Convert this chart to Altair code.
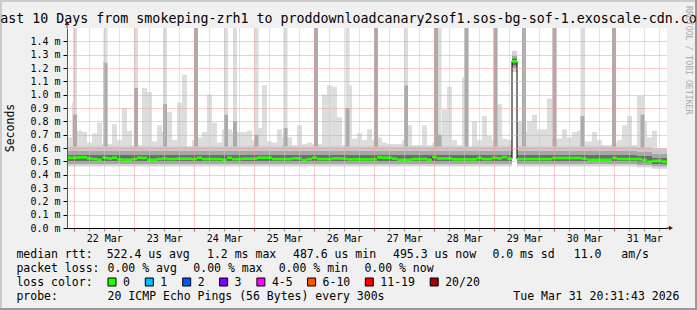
import altair as alt
import pandas as pd

# ---------------- values ----------------
title_text = "Last 10 Days from smokeping-zrh1 to proddownloadcanary2sof1.sos-bg-sof-1.exoscale-cdn.com"
y_title = "Seconds"
credit_text = "RRDTOOL / TOBI OETIKER"
start_time = "2026-03-21 21:05"
end_time = "2026-03-31 21:05"
bucket_hours = 2      # median / smoke max resolution
band_hours = 6        # core smoke band resolution

# median rtt (ms) per 2-hour bucket
median_ms = [
    0.527, 0.527, 0.530, 0.530, 0.522, 0.517, 0.512, 0.527, 0.522, 0.527,
    0.515, 0.512, 0.512, 0.517, 0.527, 0.525, 0.512, 0.512, 0.517, 0.522,
    0.517, 0.517, 0.520, 0.520, 0.520, 0.517, 0.527, 0.517, 0.517, 0.517,
    0.517, 0.512, 0.527, 0.517, 0.517, 0.520, 0.520, 0.520, 0.527, 0.527,
    0.527, 0.517, 0.517, 0.517, 0.517, 0.522, 0.522, 0.510, 0.517, 0.527,
    0.517, 0.517, 0.517, 0.522, 0.522, 0.520, 0.515, 0.515, 0.515, 0.515,
    0.515, 0.515, 0.530, 0.527, 0.527, 0.520, 0.512, 0.512, 0.512, 0.517,
    0.517, 0.517, 0.512, 0.532, 0.522, 0.522, 0.522, 0.515, 0.515, 0.515,
    0.515, 0.515, 0.525, 0.517, 0.517, 0.527, 0.522, 0.532, 0.520, 1.250,
    0.517, 0.517, 0.517, 0.517, 0.517, 0.517, 0.517, 0.525, 0.525, 0.525,
    0.525, 0.525, 0.525, 0.520, 0.512, 0.512, 0.512, 0.512, 0.512, 0.525,
    0.517, 0.517, 0.517, 0.517, 0.517, 0.510, 0.497, 0.503, 0.505, 0.497,
]

# top of the lightest smoke (ms) per 2-hour bucket (None: no low smoke)
smoke_max_ms = [
    0.68, 0.94, 0.73, 0.72, 0.64, 0.71, 0.79, 0.63, 0.63, 0.78,
    0.66, 0.90, 0.73, 0.62, 0.62, 1.05, 1.02, 0.65, 0.77, 0.72,
    0.87, 0.66, 0.94, 1.15, 0.60, 0.66, 0.68, 0.72, 1.00, 0.79,
    0.64, 0.74, 0.74, 0.72, 0.72, 0.72, 0.73, 0.66, 0.75, 1.07,
    0.65, 0.64, 0.74, 0.68, 0.68, 0.62, 0.77, 0.63, 0.64, 0.63,
    0.63, 1.00, 1.07, 1.06, 0.83, 0.62, 1.07, 0.67, 0.71, 0.66,
    0.74, 0.66, 0.68, 0.64, 0.63, 0.63, 0.63, 0.66, 0.77, 0.62,
    0.62, 0.77, 0.62, 0.64, 0.70, 0.89, 1.06, 0.66, 0.62, 1.13,
    0.60, 0.80, 0.66, 0.84, 0.69, 0.66, 0.93, 0.67, 0.66, None,
    0.80, 0.72, 0.80, 0.85, 0.74, 0.74, 0.97, 0.67, 0.67, 0.74,
    0.68, 0.72, 0.73, 0.65, 0.65, 0.72, 0.66, 0.62, 0.62, 0.64,
    0.66, 0.77, 0.84, 0.62, 0.99, 0.80, 0.68, 0.73, 0.60, 0.60,
]

# core smoke band edges (ms) per 6-hour block, from lowest to highest ping group
band_p05 = [
    0.462, 0.462, 0.462, 0.462, 0.462, 0.462, 0.462, 0.462, 0.462, 0.462,
    0.462, 0.462, 0.462, 0.462, 0.462, 0.462, 0.462, 0.462, 0.462, 0.462,
    0.462, 0.462, 0.462, 0.462, 0.462, 0.462, 0.462, 0.462, 0.462, 0.462,
    0.462, 0.462, 0.462, 0.462, 0.462, 0.462, 0.462, 0.462, 0.455, 0.445,
]
band_p20 = [
    0.480, 0.480, 0.480, 0.480, 0.480, 0.480, 0.480, 0.480, 0.480, 0.480,
    0.480, 0.480, 0.480, 0.480, 0.480, 0.480, 0.480, 0.480, 0.480, 0.480,
    0.480, 0.480, 0.480, 0.480, 0.480, 0.480, 0.480, 0.480, 0.480, 0.480,
    0.480, 0.480, 0.480, 0.480, 0.480, 0.480, 0.480, 0.480, 0.472, 0.462,
]
band_p35 = [
    0.500, 0.500, 0.500, 0.500, 0.500, 0.500, 0.500, 0.500, 0.500, 0.500,
    0.500, 0.500, 0.500, 0.500, 0.500, 0.500, 0.500, 0.500, 0.500, 0.500,
    0.500, 0.500, 0.500, 0.500, 0.500, 0.500, 0.500, 0.500, 0.500, 0.500,
    0.500, 0.500, 0.500, 0.500, 0.500, 0.500, 0.500, 0.500, 0.490, 0.480,
]
band_p65 = [
    0.548, 0.548, 0.548, 0.548, 0.548, 0.548, 0.548, 0.548, 0.548, 0.548,
    0.548, 0.548, 0.548, 0.548, 0.548, 0.548, 0.548, 0.548, 0.548, 0.548,
    0.548, 0.548, 0.548, 0.548, 0.548, 0.548, 0.548, 0.548, 0.548, 0.548,
    0.548, 0.548, 0.548, 0.548, 0.548, 0.548, 0.548, 0.548, 0.540, 0.525,
]
band_p80 = [
    0.578, 0.578, 0.578, 0.578, 0.578, 0.578, 0.578, 0.578, 0.578, 0.578,
    0.578, 0.578, 0.578, 0.578, 0.578, 0.578, 0.578, 0.578, 0.578, 0.578,
    0.578, 0.578, 0.578, 0.578, 0.578, 0.578, 0.578, 0.578, 0.578, 0.578,
    0.578, 0.578, 0.578, 0.578, 0.578, 0.578, 0.578, 0.578, 0.570, 0.555,
]
band_p95 = [
    0.612, 0.612, 0.612, 0.612, 0.612, 0.612, 0.612, 0.612, 0.612, 0.612,
    0.612, 0.612, 0.612, 0.612, 0.612, 0.612, 0.612, 0.612, 0.612, 0.612,
    0.612, 0.612, 0.612, 0.612, 0.612, 0.612, 0.612, 0.612, 0.612, 0.612,
    0.612, 0.612, 0.612, 0.612, 0.612, 0.612, 0.612, 0.612, 0.605, 0.590,
]

# short bursts of slow pings
spike_times = [
    "2026-03-22 00:17", "2026-03-22 12:29", "2026-03-23 00:41", "2026-03-23 12:17",
    "2026-03-24 00:41", "2026-03-24 12:41", "2026-03-24 16:17", "2026-03-25 00:53",
    "2026-03-25 12:29", "2026-03-26 00:41", "2026-03-26 13:17", "2026-03-27 00:41",
    "2026-03-27 12:41", "2026-03-28 00:41", "2026-03-28 02:05", "2026-03-28 12:53",
    "2026-03-29 00:29", "2026-03-29 11:53", "2026-03-30 00:05", "2026-03-30 11:17",
    "2026-03-30 23:53", "2026-03-31 11:17",
]
spike_max_ms = [1.5, 1.5, 1.5, 1.5, 1.5, 1.5, 1.5, 1.5, 1.5, 1.5, 1.5,
                1.5, 1.5, 1.5, 1.5, 1.5, 1.5, 1.5, 1.5, 1.5, 1.5, 0.99]
spike_mid_ms = [0.85, 1.24, 1.05, 0.93, 1.5, 0.85, 0.80, 0.70, 0.75, 1.5, 0.90,
                1.5, 1.07, 1.5, 0.70, 1.5, 1.5, 1.5, 1.5, 0.84, 1.5, 0.85]

# the one slow 2-hour bucket (all pings slow)
outlier_start = "2026-03-29 07:05"
outlier_end = "2026-03-29 09:05"
outlier_ms = [1.17, 1.20, 1.22, 1.27, 1.29, 1.33]
outlier_floor_ms = 0.40

y_ticks = [0.0, 0.1, 0.2, 0.3, 0.4, 0.5, 0.6, 0.7, 0.8, 0.9, 1.0, 1.1, 1.2, 1.3, 1.4]
y_max = 1.5

rtt_label = "median rtt:"
rtt_stats = ["522.4 us avg", "1.2 ms max", "487.6 us min", "495.3 us now",
             "0.0 ms sd", "11.0", "am/s"]
loss_label = "packet loss:"
loss_stats = ["0.00 % avg", "0.00 % max", "0.00 % min", "0.00 % now"]
color_label = "loss color:"
loss_names = ["0", "1", "2", "3", "4-5", "6-10", "11-19", "20/20"]
loss_colors = ["#26ff00", "#00b8ff", "#0059ff", "#7e00ff", "#ff00ff",
               "#ff5500", "#ff0000", "#a10000"]
probe_label = "probe:"
probe_text = "20 ICMP Echo Pings (56 Bytes) every 300s"
stamp_text = "Tue Mar 31 20:31:43 2026"

# ---------------- layout / style ----------------
W, H = 600, 200
PL, PT = 67, 28
MONO = "DejaVu Sans Mono"
RED_GRID = "#eb9a9a"
GRAY_GRID = "#c4c4c4"
LEG_SIZE = 11.5
rtt_x = [106.7, 207.0, 293.0, 393.0, 492.4, 573.8, 621.3]
loss_x = [107.6, 193.3, 278.7, 364.4]
box_x = [108.0, 145.3, 182.7, 219.6, 256.9, 307.6, 365.3, 430.2]
row_y = [258, 272, 286, 300]


def ms(ts):
    return int(pd.Timestamp(ts, tz="UTC").value // 1_000_000)


HOUR = 3_600_000
t0 = ms(start_time)
t1 = ms(end_time)

buckets = pd.DataFrame({
    "t": [t0 + i * bucket_hours * HOUR for i in range(len(median_ms))],
    "t2": [t0 + (i + 1) * bucket_hours * HOUR for i in range(len(median_ms))],
    "median": median_ms,
    "smax": smoke_max_ms,
})
line_df = pd.concat([
    buckets[["t", "median"]],
    pd.DataFrame({"t": [buckets["t2"].iloc[-1]], "median": [median_ms[-1]]}),
], ignore_index=True)

edges = [band_p05, band_p20, band_p35, band_p65, band_p80, band_p95]
band_rows = []
for j in range(len(band_p05)):
    for k in range(5):
        band_rows.append({
            "t": t0 + j * band_hours * HOUR,
            "t2": t0 + (j + 1) * band_hours * HOUR,
            "lo": edges[k][j], "hi": edges[k + 1][j], "band": k,
        })
bands = pd.DataFrame(band_rows)
band_colors = ["#d4d4d4", "#a6a6a6", "#6c6c6c", "#a6a6a6", "#c8c8c8"]

spikes = pd.DataFrame({
    "t": [ms(s) - 0.8 * HOUR for s in spike_times],
    "t2": [ms(s) + 0.8 * HOUR for s in spike_times],
    "top": spike_max_ms,
    "mid": spike_mid_ms,
})

orows = []
for k in range(3):
    orows.append({"t": ms(outlier_start), "t2": ms(outlier_end),
                  "lo": outlier_ms[k], "hi": outlier_ms[-1 - k], "band": k})
outl = pd.DataFrame(orows)
gap = pd.DataFrame({"t": [ms(outlier_start)], "t2": [ms(outlier_end)],
                    "lo": [outlier_floor_ms], "hi": [outlier_ms[0]]})

xscale = alt.Scale(type="utc", domain=[t0, t1], nice=False)
yscale = alt.Scale(domain=[0, y_max], nice=False, zero=False)

tick_vals = [ms(d) for d in pd.date_range("2026-03-22 00:00", "2026-03-31 18:00", freq="6h")]
is_midnight = "utchours(datum.value) == 0"
x_axis = alt.Axis(
    values=tick_vals,
    labelExpr="utchours(datum.value) == 12 ? utcFormat(datum.value, '%d %b') : ''",
    grid=True, gridDash=[1, 1],
    gridColor={"condition": {"test": is_midnight, "value": RED_GRID}, "value": GRAY_GRID},
    tickColor={"condition": {"test": is_midnight, "value": "#d04040"}, "value": "#999999"},
    tickSize=3, domainColor="#000000", labelFont=MONO, labelFontSize=10,
    labelColor="#000000", labelPadding=2, labelOverlap=False, labelFlush=False,
    labelAngle=0, title=None, zindex=1,
)
y_axis = alt.Axis(
    values=y_ticks, labelExpr="format(datum.value, '.1f') + ' m'",
    grid=True, gridDash=[1, 1], gridColor=RED_GRID,
    gridOpacity={"condition": {"test": "datum.value == 0", "value": 0}, "value": 1},
    tickSize=4, tickColor="#000000", domainColor="#555555", labelFont=MONO,
    labelFontSize=10, labelColor="#000000", labelPadding=3, title=None, zindex=1,
)


def X(field):
    return alt.X(field, scale=xscale, axis=x_axis, title=None)


def Y(field):
    return alt.Y(field, scale=yscale, axis=y_axis, title=None)


smoke = alt.Chart(buckets.dropna()).mark_rect(color="#dddddd", clip=True).encode(
    x=X("t:T"), x2="t2:T", y=Y("smax:Q"), y2=alt.datum(0.5),
)
spike_light = alt.Chart(spikes).mark_rect(color="#dcdcdc", clip=True).encode(
    x=X("t:T"), x2="t2:T", y=Y("top:Q"), y2=alt.datum(0.5),
)
spike_dark = alt.Chart(spikes).mark_rect(color="#ababab", clip=True).encode(
    x=X("t:T"), x2="t2:T", y=Y("mid:Q"), y2=alt.datum(0.5),
)
core = alt.Chart(bands).mark_rect(clip=True).encode(
    x=X("t:T"), x2="t2:T", y=Y("lo:Q"), y2="hi:Q",
    color=alt.Color("band:N", scale=alt.Scale(domain=[0, 1, 2, 3, 4], range=band_colors), legend=None),
)
gap_layer = alt.Chart(gap).mark_rect(color="#ffffff", clip=True).encode(
    x=X("t:T"), x2="t2:T", y=Y("lo:Q"), y2="hi:Q",
)
out_layer = alt.Chart(outl).mark_rect(clip=True).encode(
    x=X("t:T"), x2="t2:T", y=Y("lo:Q"), y2="hi:Q",
    color=alt.Color("band:N", scale=alt.Scale(domain=[0, 1, 2], range=["#d8d8d8", "#a8a8a8", "#707070"]), legend=None),
)
med_line = alt.Chart(line_df).mark_line(color="#000000", strokeWidth=1, interpolate="step-after", clip=True).encode(
    x=X("t:T"), y=Y("median:Q"),
)
med_band = alt.Chart(buckets).transform_calculate(
    lo="datum.median - 0.01", hi="datum.median + 0.01"
).mark_rect(color=loss_colors[0], clip=True).encode(
    x=X("t:T"), x2="t2:T", y=Y("lo:Q"), y2="hi:Q",
)


def text(s, x, y, size=LEG_SIZE, align="left", angle=0, color="#000000", baseline="alphabetic"):
    return alt.Chart(pd.DataFrame({"s": [s]})).mark_text(
        font=MONO, fontSize=size, align=align, baseline=baseline, angle=angle, color=color
    ).encode(text="s:N", x=alt.value(x - PL), y=alt.value(y - PT))


def prect(x1, y1, x2, y2, color, stroke=None):
    kw = {"color": color}
    if stroke:
        kw.update(stroke=stroke, strokeWidth=1)
    return alt.Chart(pd.DataFrame({"a": [0]})).mark_rect(**kw).encode(
        x=alt.value(x1 - PL), x2=alt.value(x2 - PL), y=alt.value(y1 - PT), y2=alt.value(y2 - PT))


deco = [
    prect(0, 0, 697, 2, "#cbcbcb"), prect(0, 0, 2, 310, "#cbcbcb"),
    prect(0, 308, 697, 310, "#999999"), prect(695, 0, 697, 310, "#999999"),
    alt.Chart(pd.DataFrame({"a": [0]})).mark_rule(color="#555555").encode(
        x=alt.value(0), y=alt.value(-5), y2=alt.value(0)),
    alt.Chart(pd.DataFrame({"a": [0]})).mark_rule(color="#000000").encode(
        x=alt.value(W), x2=alt.value(W + 3), y=alt.value(H)),
    alt.Chart(pd.DataFrame({"a": [0]})).mark_point(shape="triangle-up", filled=True, color="#7f0000", size=22, opacity=1).encode(
        x=alt.value(0), y=alt.value(-5)),
    alt.Chart(pd.DataFrame({"a": [0]})).mark_point(shape="triangle-right", filled=True, color="#7f0000", size=22, opacity=1).encode(
        x=alt.value(W + 4), y=alt.value(H)),
    text(title_text, 348.5, 23, size=13.3, align="center"),
    text(y_title, 11, 128, size=11.5, align="center", angle=270, baseline="middle"),
    text(credit_text, 688, 6, size=8.2, align="left", angle=90, color="#aaaaaa", baseline="middle"),
    text(rtt_label, 16.4, row_y[0]),
    text(loss_label, 16.4, row_y[1]),
    text(color_label, 16.4, row_y[2]),
    text(probe_label, 16.4, row_y[3]),
    text(probe_text, 107.6, row_y[3]),
    text(stamp_text, 513.3, row_y[3]),
]
for s, x in zip(rtt_stats, rtt_x):
    deco.append(text(s, x, row_y[0]))
for s, x in zip(loss_stats, loss_x):
    deco.append(text(s, x, row_y[1]))
for name, col, x in zip(loss_names, loss_colors, box_x):
    deco.append(prect(x, 278, x + 8, 286, col, stroke="#000000"))
    deco.append(text(name, x + 15, row_y[2]))

chart = alt.layer(
    smoke, spike_light, spike_dark, core, gap_layer, out_layer, med_line, med_band, *deco
).properties(
    width=W, height=H,
    autosize=alt.AutoSizeParams(type="none"),
    padding={"left": PL, "top": PT, "right": 697 - PL - W, "bottom": 310 - PT - H},
).configure(background="#f0f0f0").configure_view(fill="#ffffff", stroke=None)

chart.save("out.html", embed_options={"renderer": "svg", "actions": False})
